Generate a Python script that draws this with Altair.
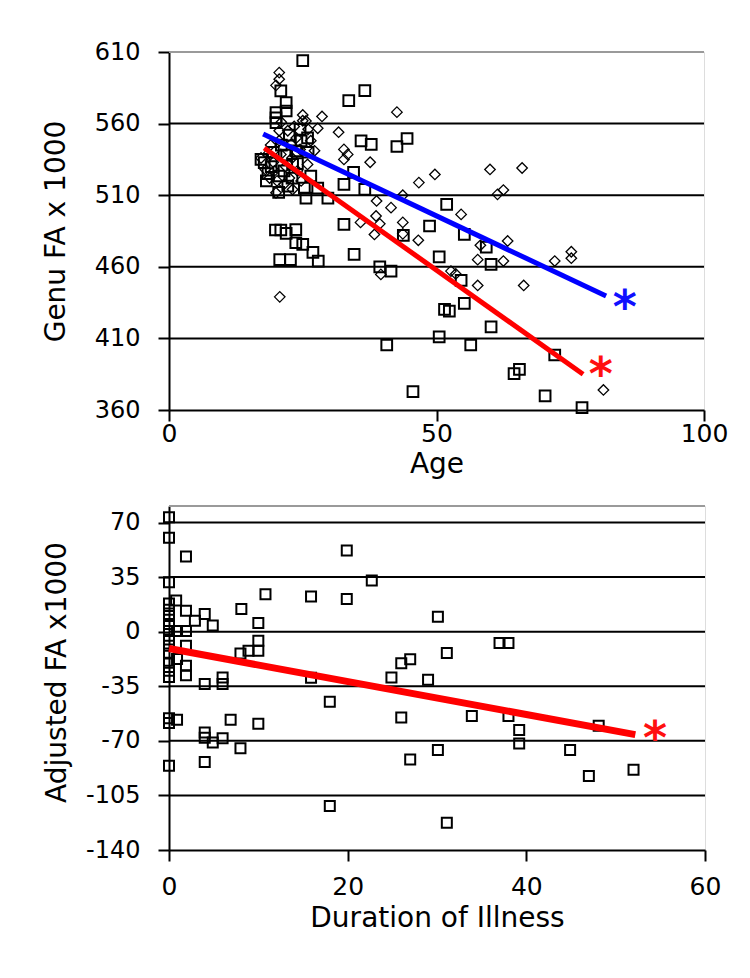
import altair as alt
import pandas as pd

FONT = "DejaVu Sans"

# ---------------- top panel: Genu FA vs Age ----------------
top_x_ticks = [0, 50, 100]
top_y_ticks = [360, 410, 460, 510, 560, 610]

ctrl_age = [20.6, 20.6, 20.0, 42.6, 28.6, 31.7, 27.8, 32.7, 33.4, 32.7, 37.6, 46.7, 49.7,
            38.8, 41.5, 43.7, 35.8, 39.4, 43.7, 38.4, 43.7, 46.6, 38.7, 20.7, 39.6,
            61.4, 62.5, 54.6, 58.2, 63.3, 57.7, 62.5, 72.1, 75.2, 75.2, 52.7, 53.6,
            57.7, 66.3, 81.2, 60.0, 66.0,
            17.2, 18.4, 18.8, 19.7, 20.0, 20.6, 20.6, 20.9, 21.5, 22.2, 22.8, 23.1,
            23.4, 24.0, 24.7, 25.0, 25.0, 25.6, 25.9, 27.2, 19.0, 21.8, 23.0, 26.5,
            18.0, 22.5, 24.5, 19.5, 21.0, 26.0, 23.8, 20.2]
ctrl_fa = [595.6, 591.0, 586.7, 568.0, 565.0, 554.0, 556.7, 542.0, 538.5, 535.0, 533.0, 518.8, 524.5,
           506.0, 501.3, 510.0, 491.0, 490.0, 491.0, 482.6, 483.0, 478.5, 495.5, 439.0, 454.7,
           510.6, 513.6, 496.6, 475.0, 478.0, 465.0, 464.0, 464.0, 470.5, 466.0, 457.0, 455.0,
           447.0, 447.0, 374.0, 528.0, 529.0,
           536.0, 538.5, 522.0, 527.0, 511.7, 548.0, 555.0, 538.5, 517.6, 555.0, 545.5, 514.0,
           558.0, 527.0, 520.0, 562.0, 566.0, 561.8, 531.5, 541.0, 545.0, 530.0, 536.0, 548.0,
           528.0, 522.0, 542.0, 533.0, 561.0, 556.0, 550.0, 520.0]

pat_age = [25.0, 36.6, 33.6, 35.9, 37.8, 42.6, 44.5, 34.5, 32.7, 36.6, 25.6, 29.7, 51.9,
           32.7, 48.7, 19.9, 20.9, 23.7, 43.8, 21.9, 23.7, 25.0, 26.9, 27.9, 20.7, 22.7,
           34.6, 39.4, 41.5, 50.5, 51.5, 52.4, 50.5, 40.7, 45.6, 55.2, 55.2, 59.3, 60.2,
           54.6, 60.2, 56.4, 72.1, 64.5, 65.5, 70.3, 77.2,
           17.2, 17.8, 19.1, 20.6, 22.2, 23.1, 23.7, 24.7, 25.9, 25.3, 26.5, 27.8, 20.9,
           21.9, 21.9, 20.0, 20.0, 20.0, 18.5, 19.5, 21.0, 22.0, 24.0, 21.5, 23.0, 24.5,
           18.2, 26.0, 22.5, 20.5]
pat_fa = [604.0, 583.0, 576.0, 548.0, 545.5, 544.0, 549.6, 526.0, 517.6, 514.0, 508.0, 508.0, 503.6,
          489.7, 488.5, 485.7, 485.7, 486.0, 482.0, 483.4, 476.8, 475.7, 470.0, 464.0, 465.0, 465.0,
          468.7, 460.0, 457.0, 467.0, 430.3, 429.0, 411.0, 405.4, 372.8, 434.5, 482.6, 473.8, 461.7,
          450.5, 418.0, 405.4, 398.4, 385.4, 388.4, 369.8, 361.6,
          535.0, 532.7, 530.0, 523.4, 516.4, 531.5, 541.0, 548.0, 550.0, 515.0, 523.4, 515.0, 582.8,
          574.6, 568.8, 567.6, 564.0, 560.7, 525.0, 540.0, 545.0, 538.0, 532.0, 527.0, 522.0, 556.0,
          520.0, 540.0, 552.0, 512.0]

blue_fit_age = [17.6, 81.7]
blue_fit_fa = [552.7, 439.6]
red_fit_age = [17.8, 77.4]
red_fit_fa = [543.0, 385.0]

star_top_age = [85.2, 80.7]
star_top_fa = [437.5, 390.7]
star_top_col = ["#1010ff", "#ff1010"]

# ---------------- bottom panel: Adjusted FA vs Duration ----------------
bot_x_ticks = [0, 20, 40, 60]
bot_y_ticks = [-140, -105, -70, -35, 0, 35, 70]
bot_y_max = 80.6

dur = [0, 0, 1.9, 19.9, 22.7, 0, 10.8, 15.9, 19.9, 8.1, 10, 0.8, 1.9, 2.9, 4, 4.9,
       0, 0, 0, 0, 0.9, 1.9, 0, 0, 0, 0, 0, 0, 0, 0.9, 1.9, 1.9, 1.9, 4, 6, 6,
       8, 8.9, 10, 10, 15.9, 18, 30.1, 37, 38, 31.1, 27, 26, 24.9, 29, 26, 33.9,
       38, 39.2, 39.2, 48.1, 30.1, 27, 44.9, 47, 52, 31.1, 0, 0, 0.9, 6.9, 10,
       4, 4, 4.9, 6, 8, 0, 4, 18]
adj = [73.4, 60.2, 48.2, 52.0, 32.8, 31.7, 24.0, 22.5, 21.0, 14.6, 5.6, 20.0, 13.5, 7.0, 11.3, 3.9,
       18.0, 14.0, 10.0, 5.0, 0.5, 0.5, 0.5, -5.0, -9.0, -14.0, -20.0, -25.0, -29.0, -17.5, -9.0, -21.8,
       -28.0, -33.6, -29.3, -33.6, -14.0, -12.2, -5.8, -12.2, -29.5, -45.0, 9.6, -7.3, -7.3, -13.7,
       -17.6, -20.3, -29.3, -30.8, -55.0, -54.0, -54.0, -63.0, -71.7, -60.4, -75.8, -82.0, -75.8,
       -92.5, -88.6, -122.5, -55.5, -58.5, -56.5, -56.5, -59.0, -64.7, -68.0, -71.0, -68.3, -74.7,
       -86.0, -83.5, -111.8]

red2_fit_dur = [0, 52.2]
red2_fit_adj = [-10.8, -66.0]

star_bot_dur = [54.4]
star_bot_adj = [-63.3]


def axis_common(**kw):
    base = dict(grid=False, domainColor="black", domainWidth=2, tickColor="black",
                tickWidth=2, tickSize=11, labelFont=FONT, labelColor="black",
                titleFont=FONT, titleFontSize=28, titleFontWeight="normal",
                titleColor="black", labelOverlap=False, labelFlush=False,
                labelExpr="'' + datum.value")
    base.update(kw)
    return alt.Axis(**base)


def panel(x_ticks, y_ticks, y_top, xtitle, ytitle,
          x_lab_pad, x_title_y, title_x, title_y):
    xsc = alt.Scale(domain=[x_ticks[0], x_ticks[-1]], nice=False, zero=False)
    ysc = alt.Scale(domain=[y_ticks[0], y_top], nice=False, zero=False)
    xax = axis_common(values=x_ticks, title=xtitle, labelFontSize=25,
                      labelPadding=x_lab_pad, titleY=x_title_y, titleBaseline="middle")
    yax = axis_common(values=y_ticks, title=ytitle, labelFontSize=24,
                      labelPadding=18, titleX=title_x, titleY=title_y,
                      titleBaseline="middle")
    grid_vals = [t for t in y_ticks[1:] if t < y_top]
    grid = alt.Chart(pd.DataFrame({"g": grid_vals})).mark_rule(
        color="black", strokeWidth=2).encode(
        y=alt.Y("g:Q", scale=ysc, axis=yax),
        x=alt.datum(x_ticks[0], scale=xsc, axis=xax),
        x2=alt.datum(x_ticks[-1]),
    )
    border = alt.Chart(pd.DataFrame({"t": [y_top]})).mark_rule(
        color="#9a9a9a", strokeWidth=2).encode(y=alt.Y("t:Q", scale=ysc))
    return grid, border, xsc, ysc


# top
g1, b1, xs1, ys1 = panel(top_x_ticks, top_y_ticks, top_y_ticks[-1],
                         "Age", "Genu FA x 1000", 0, 54, -113, 179)
ctrl_df = pd.DataFrame({"age": ctrl_age, "fa": ctrl_fa})
pat_df = pd.DataFrame({"age": pat_age, "fa": pat_fa})
diamonds = alt.Chart(ctrl_df).mark_point(shape="diamond", filled=False, color="black",
                                         strokeWidth=1.3, size=110, opacity=1).encode(
    x=alt.X("age:Q", scale=xs1), y=alt.Y("fa:Q", scale=ys1))
squares = alt.Chart(pat_df).mark_point(shape="square", filled=False, color="black",
                                       strokeWidth=2, size=115, opacity=1).encode(
    x=alt.X("age:Q", scale=xs1), y=alt.Y("fa:Q", scale=ys1))
blue_line = alt.Chart(pd.DataFrame({"age": blue_fit_age, "fa": blue_fit_fa})).mark_line(
    color="#0000ff", strokeWidth=5).encode(x=alt.X("age:Q", scale=xs1), y=alt.Y("fa:Q", scale=ys1))
red_line = alt.Chart(pd.DataFrame({"age": red_fit_age, "fa": red_fit_fa})).mark_line(
    color="#ff0000", strokeWidth=5).encode(x=alt.X("age:Q", scale=xs1), y=alt.Y("fa:Q", scale=ys1))
stars1 = alt.Chart(pd.DataFrame({"age": star_top_age, "fa": star_top_fa, "c": star_top_col})).mark_text(
    text="*", font=FONT, fontSize=46, fontWeight="bold", baseline="alphabetic", dy=24).encode(
    x=alt.X("age:Q", scale=xs1), y=alt.Y("fa:Q", scale=ys1), color=alt.Color("c:N", scale=None))

top = alt.layer(g1, b1, diamonds, squares, blue_line, red_line, stars1).properties(
    width=535, height=358)

# bottom
g2, b2, xs2, ys2 = panel(bot_x_ticks, bot_y_ticks, bot_y_max,
                         "Duration of Illness", "Adjusted FA x1000", 13, 68, -112, 166)
bot_df = pd.DataFrame({"d": dur, "a": adj})
squares2 = alt.Chart(bot_df).mark_point(shape="square", filled=False, color="black",
                                        strokeWidth=2, size=100, opacity=1).encode(
    x=alt.X("d:Q", scale=xs2), y=alt.Y("a:Q", scale=ys2))
red_line2 = alt.Chart(pd.DataFrame({"d": red2_fit_dur, "a": red2_fit_adj})).mark_line(
    color="#ff0000", strokeWidth=7).encode(x=alt.X("d:Q", scale=xs2), y=alt.Y("a:Q", scale=ys2))
stars2 = alt.Chart(pd.DataFrame({"d": star_bot_dur, "a": star_bot_adj})).mark_text(
    text="*", font=FONT, fontSize=46, fontWeight="bold", baseline="alphabetic", dy=24,
    color="#ff1010").encode(x=alt.X("d:Q", scale=xs2), y=alt.Y("a:Q", scale=ys2))

bottom = alt.layer(g2, b2, squares2, red_line2, stars2).properties(width=536, height=344)

chart = alt.vconcat(top, bottom, spacing=25).properties(
    padding={"left": 33, "top": 31, "right": 5, "bottom": 5}
).configure_view(stroke=None).configure(background="white")

chart.save("out.html", embed_options={"renderer": "svg", "actions": False})
